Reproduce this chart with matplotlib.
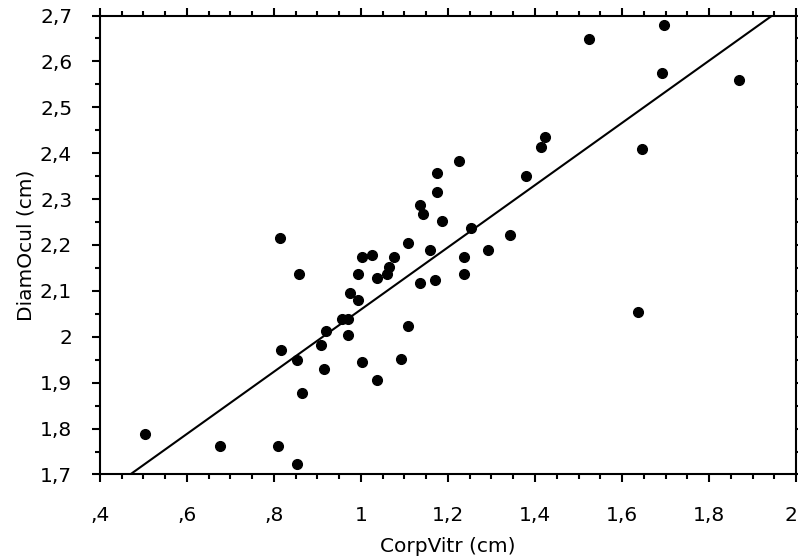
import numpy as np
import matplotlib
matplotlib.use('Agg')
import matplotlib.pyplot as plt
from matplotlib.ticker import MultipleLocator
from matplotlib.transforms import ScaledTranslation

plt.rcParams['font.family'] = ['DejaVu Sans']

# values
corp_vitr = [0.503, 0.676, 0.810, 0.854, 0.858, 0.814, 0.815, 0.854, 0.864, 0.920,
             0.909, 0.915, 0.957, 0.971, 0.969, 0.975, 0.992, 0.992, 1.003, 1.025,
             1.003, 1.036, 1.036, 1.059, 1.064, 1.075, 1.109, 1.109, 1.091, 1.136,
             1.169, 1.159, 1.136, 1.142, 1.174, 1.175, 1.186, 1.225, 1.252, 1.236,
             1.236, 1.292, 1.342, 1.380, 1.414, 1.424, 1.525, 1.697, 1.691, 1.869,
             1.647, 1.636]
diam_ocul = [1.789, 1.763, 1.763, 1.722, 2.137, 2.216, 1.972, 1.950, 1.877, 2.012,
             1.983, 1.930, 2.039, 2.039, 2.003, 2.096, 2.081, 2.137, 2.173, 2.179,
             1.945, 1.906, 2.128, 2.137, 2.153, 2.174, 2.205, 2.023, 1.951, 2.117,
             2.123, 2.190, 2.288, 2.268, 2.315, 2.356, 2.253, 2.382, 2.237, 2.174,
             2.137, 2.190, 2.221, 2.351, 2.413, 2.435, 2.648, 2.680, 2.575, 2.560,
             2.409, 2.054]

# fitted line as drawn in the reference
fit_slope = 0.6775
fit_intercept = 1.382

xticks = [0.4, 0.6, 0.8, 1.0, 1.2, 1.4, 1.6, 1.8, 2.0]
xlabels = [',4', ',6', ',8', '1', '1,2', '1,4', '1,6', '1,8', '2']
yticks = [1.7, 1.8, 1.9, 2.0, 2.1, 2.2, 2.3, 2.4, 2.5, 2.6, 2.7]
ylabels = ['1,7', '1,8', '1,9', '2', '2,1', '2,2', '2,3', '2,4', '2,5', '2,6', '2,7']

x = np.array(corp_vitr)
y = np.array(diam_ocul)

fig = plt.figure(figsize=(7.98, 5.6), dpi=100)
ax = fig.add_axes([0.1253, 0.1527, 0.8722, 0.8196])

ax.plot(x, y, 'o', color='black', markersize=7)
xr = np.array([0.3, 2.1])
ax.plot(xr, fit_slope*xr+fit_intercept, color='black', linewidth=1.5)

ax.set_xlim(0.4, 2.0)
ax.set_ylim(1.7, 2.7)
ax.set_xticks(xticks)
ax.set_xticklabels(xlabels)
ax.set_yticks(yticks)
ax.set_yticklabels(ylabels)
ax.xaxis.set_minor_locator(MultipleLocator(0.05))
ax.yaxis.set_minor_locator(MultipleLocator(0.05))
ax.tick_params(which='both', direction='out', top=True, right=True,
               labelsize=14.5, width=1.5, colors='black')
ax.tick_params(axis='x', which='major', length=6, pad=17)
ax.tick_params(axis='y', which='major', length=6, pad=14)
ax.tick_params(which='minor', length=3.5)
for s in ax.spines.values():
    s.set_linewidth(1.5)

# keep the last x label inside the figure edge
lab = ax.get_xticklabels()[-1]
lab.set_transform(lab.get_transform() + ScaledTranslation(-5/100, 0, fig.dpi_scale_trans))

ax.set_xlabel('CorpVitr (cm)', fontsize=14.5, labelpad=8)
ax.set_ylabel('DiamOcul (cm)', fontsize=14.5, labelpad=3)

fig.savefig('out.png', dpi=100)
